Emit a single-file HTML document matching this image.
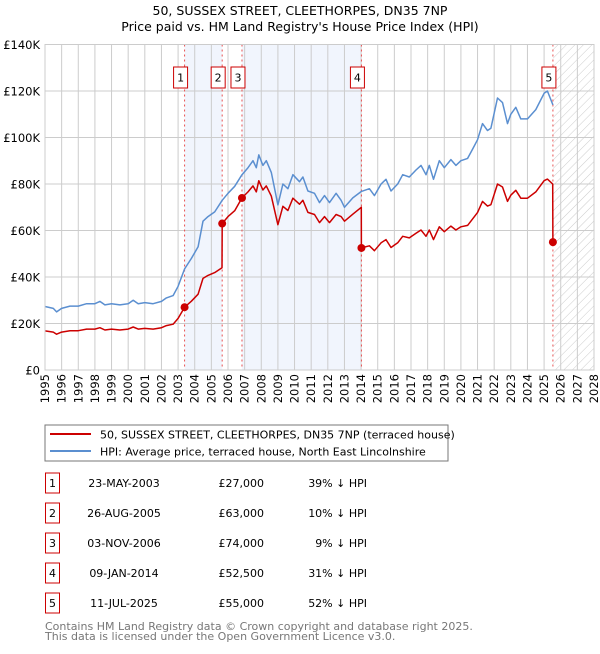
<!DOCTYPE html>
<html><head><meta charset="utf-8"><style>
body{margin:0;background:#fff;font-family:"DejaVu Sans","Liberation Sans",sans-serif;}
svg text{font-family:"DejaVu Sans","Liberation Sans",sans-serif;}
</style></head><body>
<svg id="chart" width="600" height="650" viewBox="0 0 600 650">
<defs><pattern id="hatch" width="6" height="6" patternUnits="userSpaceOnUse" patternTransform="rotate(45)"><line x1="0" y1="0" x2="0" y2="6" stroke="#ccc" stroke-width="1"/></pattern></defs>
<text x="300" y="15" text-anchor="middle" font-size="12.5" fill="#000">50, SUSSEX STREET, CLEETHORPES, DN35 7NP</text>
<text x="300" y="31" text-anchor="middle" font-size="12.5" fill="#000">Price paid vs. HM Land Registry's House Price Index (HPI)</text>
<g id="plot"></g>
<rect x="45" y="425" width="403" height="36" fill="#fff" stroke="#777" stroke-width="1"/>
<line x1="50" y1="434" x2="91" y2="434" stroke="#cc0000" stroke-width="2"/>
<text x="100" y="438.5" font-size="11">50, SUSSEX STREET, CLEETHORPES, DN35 7NP (terraced house)</text>
<line x1="50" y1="451" x2="91" y2="451" stroke="#5b8fd0" stroke-width="2"/>
<text x="100" y="455.5" font-size="11">HPI: Average price, terraced house, North East Lincolnshire</text>
<g id="table"></g>
<text x="45" y="630" font-size="11" fill="#777">Contains HM Land Registry data © Crown copyright and database right 2025.</text>
<text x="45" y="640" font-size="11" fill="#777">This data is licensed under the Open Government Licence v3.0.</text>
</svg>
<script>
const years=[1995,1996,1997,1998,1999,2000,2001,2002,2003,2004,2005,2006,2007,2008,2009,2010,2011,2012,2013,2014,2015,2016,2017,2018,2019,2020,2021,2022,2023,2024,2025,2026,2027,2028];
const yTicks=[0,20000,40000,60000,80000,100000,120000,140000];
const yTickLabels=["£0","£20K","£40K","£60K","£80K","£100K","£120K","£140K"];
const hpiDates=[1995.0,1995.5,1995.7,1996.0,1996.5,1997.0,1997.5,1998.0,1998.3,1998.6,1999.0,1999.5,2000.0,2000.3,2000.6,2001.0,2001.5,2002.0,2002.3,2002.7,2003.0,2003.39,2003.8,2004.2,2004.5,2004.8,2005.2,2005.65,2006.0,2006.4,2006.84,2007.2,2007.5,2007.7,2007.85,2008.1,2008.3,2008.6,2009.0,2009.3,2009.6,2009.9,2010.3,2010.5,2010.8,2011.2,2011.5,2011.8,2012.1,2012.5,2012.8,2013.0,2013.5,2014.02,2014.5,2014.8,2015.2,2015.5,2015.8,2016.2,2016.5,2016.9,2017.3,2017.6,2017.9,2018.1,2018.35,2018.7,2019.0,2019.4,2019.7,2020.0,2020.4,2020.7,2021.0,2021.3,2021.6,2021.8,2022.2,2022.5,2022.8,2023.0,2023.3,2023.6,2024.0,2024.5,2025.0,2025.2,2025.53];
const hpiValues=[27.3,26.5,25,26.5,27.5,27.5,28.5,28.5,29.5,28,28.5,28,28.5,30,28.5,29,28.5,29.5,31,32,36,43.5,48,53,64,66,68,73,76,79,84,87,90,87,92.5,88,90,85,71,80,78,84,81,83,77,76,72,75,72,76,73,70,74,76.8,78,75,80,82,77,80,84,83,86,88,84,88,82,90,87,90.5,88,90,91,95,99,106,103,104,117,115,106,110,113,108,108,112,119,120,114];
const priceDates=[1995.0,1995.5,1995.7,1996.0,1996.5,1997.0,1997.5,1998.0,1998.3,1998.6,1999.0,1999.5,2000.0,2000.3,2000.6,2001.0,2001.5,2002.0,2002.3,2002.7,2003.0,2003.39,2003.8,2004.2,2004.5,2004.8,2005.2,2005.64,2005.65,2006.0,2006.4,2006.84,2007.2,2007.5,2007.7,2007.85,2008.1,2008.3,2008.6,2009.0,2009.3,2009.6,2009.9,2010.3,2010.5,2010.8,2011.2,2011.5,2011.8,2012.1,2012.5,2012.8,2013.0,2013.5,2014.01,2014.02,2014.5,2014.8,2015.2,2015.5,2015.8,2016.2,2016.5,2016.9,2017.3,2017.6,2017.9,2018.1,2018.35,2018.7,2019.0,2019.4,2019.7,2020.0,2020.4,2020.7,2021.0,2021.3,2021.6,2021.8,2022.2,2022.5,2022.8,2023.0,2023.3,2023.6,2024.0,2024.5,2025.0,2025.2,2025.52,2025.53];
const priceValues=[16.8,16.3,15.4,16.3,16.9,16.9,17.6,17.6,18.2,17.2,17.6,17.2,17.6,18.5,17.6,17.9,17.6,18.2,19.1,19.7,22.2,27,29.6,32.6,39.4,40.7,41.9,44,63,66,68.5,74,76.6,79.2,76.6,81.4,77.4,79.2,74.8,62.5,70.4,68.6,73.9,71.3,73,67.8,66.9,63.4,66,63.4,66.9,66,64,67,70,52.5,53.4,51.3,54.7,56.1,52.7,54.7,57.5,56.8,58.8,60.2,57.5,60.2,56.1,61.6,59.5,61.9,60.2,61.6,62.2,65,67.7,72.5,70.5,71.1,80,78.7,72.5,75.2,77.3,73.9,73.9,76.6,81.4,82.1,80,55];
const saleDates=[2003.39,2005.65,2006.84,2014.02,2025.53];
const salePrices=[27000,63000,74000,52500,55000];
const saleDateLabels=["23-MAY-2003","26-AUG-2005","03-NOV-2006","09-JAN-2014","11-JUL-2025"];
const salePriceLabels=["£27,000","£63,000","£74,000","£52,500","£55,000"];
const salePctLabels=["39% ↓ HPI","10% ↓ HPI","9% ↓ HPI","31% ↓ HPI","52% ↓ HPI"];

const NS="http://www.w3.org/2000/svg";
const L=45,R=594,T=44.5,B=370;
const xs=y=>L+(y-1995)/(2028-1995)*(R-L);
const ys=v=>B-v/140000*(B-T);
function mk(p,tag,at){const e=document.createElementNS(NS,tag);for(const k in at)e.setAttribute(k,at[k]);p.appendChild(e);return e;}
const g=document.getElementById('plot');
let s=mk(g,'rect',{x:xs(saleDates[0]),y:T,width:xs(saleDates[1])-xs(saleDates[0]),height:B-T,fill:'#eef3fc',opacity:0.8});


s=mk(g,'rect',{x:xs(saleDates[2]),y:T,width:xs(saleDates[3])-xs(saleDates[2]),height:B-T,fill:'#eef3fc',opacity:0.8});


s=mk(g,'rect',{x:xs(saleDates[4]),y:T,width:R-xs(saleDates[4]),height:B-T,fill:'url(#hatch)'});


years.forEach(y=>{const l=mk(g,'line',{x1:xs(y),x2:xs(y),y1:T,y2:B,stroke:'#ccc','stroke-width':1});


const tx=xs(y)+4,ty=374;
const t=mk(g,'text',{x:tx,y:ty,'text-anchor':'end','font-size':'11.5',transform:'rotate(-90 '+tx+' '+ty+')'});t.textContent=y;

});
yTicks.forEach((v,i)=>{const l=mk(g,'line',{x1:L,x2:R,y1:ys(v),y2:ys(v),stroke:'#ccc','stroke-width':1});


const t=mk(g,'text',{x:40,y:ys(v)+4.5,'text-anchor':'end','font-size':'11.5'});t.textContent=yTickLabels[i];

});
saleDates.forEach((d,i)=>{const l=mk(g,'line',{x1:xs(d),x2:xs(d),y1:T,y2:B,stroke:'#e85050','stroke-width':1,'stroke-dasharray':'2,3'});


const r=mk(g,'rect',{x:xs(d)-11,y:67,width:14,height:21,fill:'#fff',stroke:'#cc0000','stroke-width':1});


const t=mk(g,'text',{x:xs(d)-4,y:81.5,'text-anchor':'middle','font-size':'11'});t.textContent=i+1;

});
function path(ds,vs){return ds.map((d,i)=>(i?'L':'M')+xs(d).toFixed(1)+','+ys(vs[i]*1000).toFixed(1)).join('');}
const hp=mk(g,'path',{d:path(hpiDates,hpiValues),fill:'none',stroke:'#5b8fd0','stroke-width':1.5,'stroke-linejoin':'round'});


const pp=mk(g,'path',{d:path(priceDates,priceValues),fill:'none',stroke:'#cc0000','stroke-width':1.5,'stroke-linejoin':'round'});


saleDates.forEach((d,i)=>{const c=mk(g,'circle',{cx:xs(d),cy:ys(salePrices[i]),r:4,fill:'#cc0000'});

});
const fr=mk(g,'rect',{x:L,y:T,width:R-L,height:B-T,fill:'none',stroke:'#ccc','stroke-width':1});


const tb=document.getElementById('table');
saleDates.forEach((d,i)=>{const cy=483+i*30;
const r=mk(tb,'rect',{x:45.5,y:cy-10,width:14,height:20,fill:'#fff',stroke:'#cc0000','stroke-width':1});


let t=mk(tb,'text',{x:52.5,y:cy+4,'text-anchor':'middle','font-size':'11'});t.textContent=i+1;


t=mk(tb,'text',{x:124,y:cy+4,'text-anchor':'middle','font-size':'11'});t.textContent=saleDateLabels[i];


t=mk(tb,'text',{x:264,y:cy+4,'text-anchor':'end','font-size':'11'});t.textContent=salePriceLabels[i];


t=mk(tb,'text',{x:367,y:cy+4,'text-anchor':'end','font-size':'11'});t.textContent=salePctLabels[i];

});
</script>
</body></html>
